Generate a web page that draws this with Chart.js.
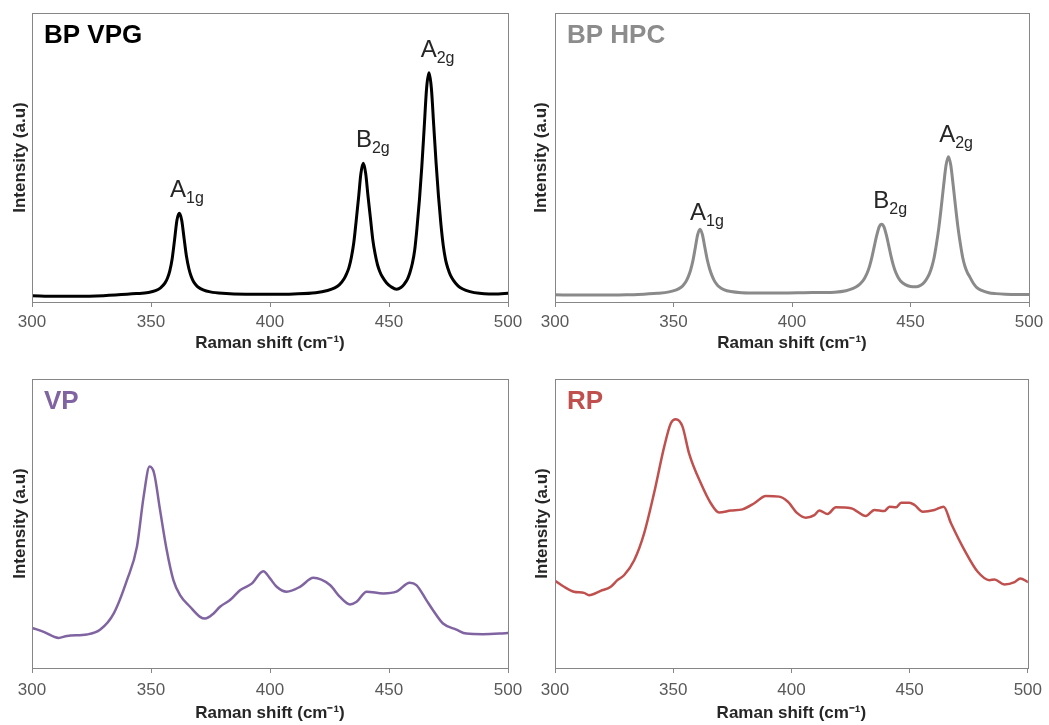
<!DOCTYPE html>
<html><head><meta charset="utf-8">
<script src="https://cdn.jsdelivr.net/npm/chart.js@4.4.1/dist/chart.umd.min.js"></script>
<style>
html,body{margin:0;padding:0;background:#fff;}
body{width:1049px;height:725px;position:relative;overflow:hidden;}
canvas{position:absolute;display:block;}
</style></head><body>
<canvas id="c1" width="528" height="362" style="left:0;top:0"></canvas>
<canvas id="c2" width="525" height="362" style="left:524px;top:0"></canvas>
<canvas id="c3" width="530" height="363" style="left:0;top:362px"></canvas>
<canvas id="c4" width="525" height="363" style="left:524px;top:362px"></canvas>
<script>
// ---- data (Raman shift in cm-1, intensity in arbitrary units) ----
const xTicks = [300, 350, 400, 450, 500];

const vpgX = [300,310,320,330,335,343.9,348.9,351.9,353.9,354.9,355.9,356.9,357.9,358.9,359.9,360.9,361.9,362.9,363.9,364.9,365.9,366.9,367.9,368.9,369.9,371.9,374.9,380,390,400,410,419.2,424.2,427.2,429.2,431.2,432.2,433.2,434.2,435.2,436.2,437.2,438.2,439.2,440.2,441.2,442.2,443.2,444.2,445.2,446.2,447.2,449,451,453.2,455,456.5,457.8,458.8,459.8,460.8,461.8,462.8,463.8,464.8,465.8,466.8,467.8,468.8,469.8,470.8,471.8,472.8,473.8,474.8,475.8,477,479,481,484,488,492,496,500];
const vpgY = [2.2,2.0,2.0,2.2,2.4,2.9,3.3,3.9,4.8,5.6,6.6,8.2,10.8,15,21.5,28.3,30.7,28.3,22,15.8,11.6,8.8,7.0,5.9,5.1,4.2,3.5,3.0,2.7,2.7,2.8,3.2,4,4.9,6.0,8.1,9.8,12,15.5,20.5,28,36,44.5,48,44.5,36.5,29,21.5,16.5,12.8,10.4,8.7,6.6,5.2,4.4,5.0,6.3,8.0,10.2,13.3,18,26,35.5,47,60.5,74,79.3,74,61,48,36.5,27,19.5,14.5,11.5,9.3,7.6,5.6,4.5,3.6,3.0,2.8,2.8,3.0];

const hpcX = [300,310,320,330,335,343.2,348.2,351.2,353.2,354.2,355.2,356.2,357.2,358.2,359.2,360.2,361.2,362.2,363.2,364.2,365.2,366.2,367.2,368.2,369.2,371.2,374.2,379,385,395,405,412,418,422.8,425.8,427.8,429.8,430.8,431.8,432.8,433.8,434.8,435.8,436.8,437.8,438.8,439.8,440.8,441.8,442.8,443.8,444.8,445.8,447.8,450,452.6,454.5,456,457,458,459,460,461,462,463,464,465,466,467,468,469,470,471,472,473,474,475,476.5,478,480,483,486,490,495,500];
const hpcY = [2.5,2.4,2.4,2.5,2.6,3.0,3.5,4.2,5.1,5.9,7,8.7,11,14.3,18.8,23.3,25.2,23.3,19,14.8,11.6,9.2,7.4,6.2,5.3,4.3,3.6,3.2,3.1,3.1,3.2,3.3,3.4,3.9,4.7,5.6,7.2,8.5,10.2,12.6,15.8,19.6,23.2,26,26.9,26,23.2,19.6,15.8,12.6,10.2,8.5,7.3,6.0,5.4,5.3,5.9,7.0,8.2,9.8,12.2,15.5,20.3,26,33,40.5,47.3,50.3,47.3,40.5,33,26,20.3,15.5,12.3,10.2,8.7,6.5,5.0,4.0,3.2,2.9,2.7,2.6,2.6];

const vpX = [300,304.9,311.2,314.7,323.1,328.7,334.3,339.9,344.1,346.9,349.4,351.3,353.8,356.6,359.4,362.2,366.4,370.6,372.7,376.2,379,383.2,387.4,392.3,397.2,400,402.8,407,412.6,418.2,425.2,429.4,433.6,436.4,440.6,447.6,453.1,458.7,461.5,465.7,468.5,472.7,478.3,482.5,489.5,496.5,500];
const vpY = [13.9,12.5,10.4,11.1,11.6,13.3,18.8,30.4,42,59.3,69.7,67.4,54.7,40.8,30.4,25.2,21.2,17.7,17.1,18.8,21.2,23.5,26.9,29.2,33.5,31,28.1,26.4,28.1,31.2,28.7,24.6,22,22.9,26.4,25.8,26.4,29.5,28.7,23.5,20,15.4,13.3,11.9,11.7,11.9,12.1];

const rpX = [300,303.8,308,312.3,314.4,319.3,323.6,326.4,329.2,333.5,337.7,341.9,346.2,349,351.1,353.9,356.7,361.7,365.9,369.4,374.4,379.3,384.3,389.2,394.8,398.4,402.6,406.1,409.7,411.8,415.3,418.8,425.2,431.5,435.1,439.3,441.5,444.3,446.4,449.9,452.1,455.6,460.5,464.4,467.5,473.2,478.8,483.8,485.9,490.1,494.4,496.8,500];
const rpY = [30.2,28.1,26.4,26,25.2,26.7,28.1,30.4,32.1,37.3,46.6,60.5,76.6,84.7,86.1,83.6,74.3,63.9,57,53.8,54.5,54.9,57,59.5,59.3,57.6,53.5,52,52.9,54.5,53.3,55.6,55.3,52.6,54.7,54.3,55.8,55.6,57.2,57.2,56.4,54.1,54.7,55.8,50.1,40.8,33.3,30.4,30.6,28.9,29.7,31,29.8];

// peak labels: [main letter, subscript] with anchor (cm-1, a.u.)
const vpgPeakNames = [['A','1g'],['B','2g'],['A','2g']];
const vpgPeakAnchorX = [358, 436.1, 463.3];
const vpgPeakAnchorY = [36.2, 53.7, 84.7];
const hpcPeakNames = [['A','1g'],['B','2g'],['A','2g']];
const hpcPeakAnchorX = [357, 434.3, 462.1];
const hpcPeakAnchorY = [28.4, 32.4, 55.4];

// ---- drawing ----
const FONT = "'Liberation Sans', Arial, Helvetica, sans-serif";
const AXIS = '#868686';
const TEXT = '#262626';
const TICKTXT = '#595959';

const decorPlugin = {
  id: 'decor',
  afterDraw(chart, args, o) {
    const ctx = chart.ctx, a = chart.chartArea;
    ctx.save();
    ctx.strokeStyle = AXIS; ctx.lineWidth = 1;
    ctx.strokeRect(Math.round(a.left) + 0.5, Math.round(a.top) + 0.5,
                   Math.round(a.right - a.left), Math.round(a.bottom - a.top));
    ctx.fillStyle = o.titleColor;
    ctx.font = 'bold 26px ' + FONT;
    ctx.textBaseline = 'alphabetic'; ctx.textAlign = 'left';
    ctx.fillText(o.title, a.left + 12, a.top + 30);
    if (o.names) {
      const xs = chart.scales.x, ys = chart.scales.y;
      ctx.fillStyle = TEXT;
      o.names.forEach((n, i) => {
        const px = xs.getPixelForValue(o.ax[i]);
        const py = ys.getPixelForValue(o.ay[i]);
        ctx.font = '24px ' + FONT;
        ctx.fillText(n[0], px, py);
        const w = ctx.measureText(n[0]).width;
        ctx.font = '16px ' + FONT;
        ctx.fillText(n[1], px + w, py + 6);
      });
    }
    ctx.restore();
  }
};

function makeChart(id, xs, ys, color, lw, deco, g) {
  const pts = xs.map((x, i) => ({x: x, y: ys[i]}));
  return new Chart(document.getElementById(id), {
    type: 'line',
    data: { datasets: [{ data: pts, borderColor: color, borderWidth: lw, pointRadius: 0,
      fill: false, cubicInterpolationMode: 'monotone', borderJoinStyle: 'round', borderCapStyle: 'round' }] },
    options: {
      responsive: false, animation: false, devicePixelRatio: 1,
      layout: { padding: { left: 0, top: g.padTop, right: g.padRight, bottom: 0 } },
      plugins: { legend: { display: false }, tooltip: { enabled: false }, decor: deco },
      scales: {
        x: {
          type: 'linear', min: 300, max: 500,
          afterBuildTicks: s => { s.ticks = xTicks.map(v => ({value: v})); },
          ticks: { font: { family: FONT, size: 17 }, color: TICKTXT, padding: g.tickPad, maxRotation: 0 },
          grid: { display: true, drawOnChartArea: false, drawTicks: true, tickLength: 5, color: AXIS, lineWidth: 1 },
          border: { display: false },
          title: { display: true, text: 'Raman shift (cm\u207B\u00B9)', color: TEXT,
                   font: { family: FONT, size: 17, weight: 'bold' }, padding: { top: 0, bottom: g.xTitlePad } },
          afterFit: s => { s.height = g.xH; }
        },
        y: {
          min: 0, max: 100,
          ticks: { display: false },
          grid: { display: false },
          border: { display: false },
          title: { display: true, text: 'Intensity (a.u)', color: TEXT,
                   font: { family: FONT, size: 17, weight: 'bold' }, padding: { top: g.yTitlePad, bottom: 0 } },
          afterFit: s => { s.width = g.yW; }
        }
      }
    },
    plugins: [decorPlugin]
  });
}

makeChart('c1', vpgX, vpgY, '#000000', 3,
  { title: 'BP VPG', titleColor: '#000000', names: vpgPeakNames, ax: vpgPeakAnchorX, ay: vpgPeakAnchorY },
  { padTop: 13, padRight: 20, yW: 32, xH: 60, yTitlePad: 10, tickPad: 5, xTitlePad: 8 });
makeChart('c2', hpcX, hpcY, '#8a8a8a', 3,
  { title: 'BP HPC', titleColor: '#8c8c8c', names: hpcPeakNames, ax: hpcPeakAnchorX, ay: hpcPeakAnchorY },
  { padTop: 13, padRight: 20, yW: 31, xH: 60, yTitlePad: 7, tickPad: 5, xTitlePad: 8 });
makeChart('c3', vpX, vpY, '#8064A2', 2.5,
  { title: 'VP', titleColor: '#8064A2' },
  { padTop: 17, padRight: 22, yW: 32, xH: 57, yTitlePad: 10, tickPad: 7, xTitlePad: 1 });
makeChart('c4', rpX, rpY, '#C0504D', 2.5,
  { title: 'RP', titleColor: '#C0504D' },
  { padTop: 17, padRight: 20, yW: 31, xH: 57, yTitlePad: 8, tickPad: 7, xTitlePad: 1 });
</script>
</body></html>
